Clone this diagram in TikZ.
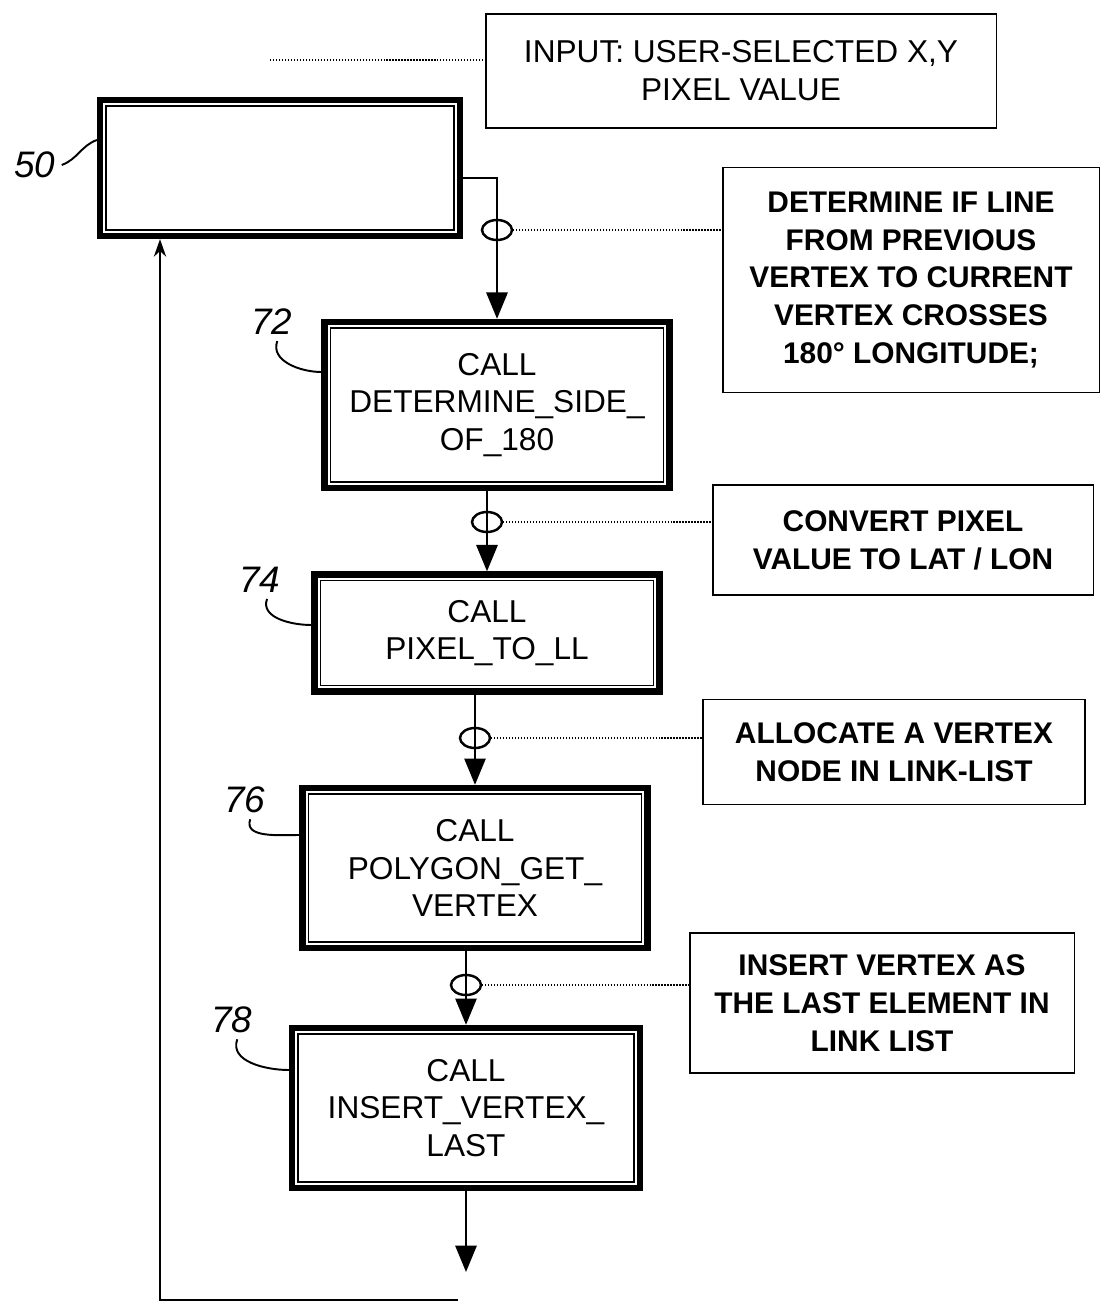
\documentclass[tikz,border=0pt]{standalone}
\usepackage{fontspec}
\setmainfont{Liberation Sans}
\usetikzlibrary{positioning,arrows.meta,shapes.geometric,calc}
\tikzset{
  callbox/.style={draw,line width=3.6pt,align=center,inner sep=4pt,
    font=\fontsize{18}{21.5}\selectfont,
    path picture={\draw[line width=1.1pt]
      ([shift={(3.4pt,3.4pt)}]path picture bounding box.south west) rectangle
      ([shift={(-3.4pt,-3.4pt)}]path picture bounding box.north east);}},
  note/.style={draw,line width=1.1pt,align=center,inner sep=4pt,
    font=\bfseries\fontsize{17}{21.5}\selectfont},
  arr/.style={-{Triangle[width=12pt,length=15pt]},line width=1.5pt},
  back/.style={-{Stealth[width=7pt,length=10pt]},line width=1.1pt},
  tap/.style={draw,ellipse,line width=1.4pt,minimum width=0.6cm,minimum height=0.4cm,inner sep=0pt},
  lead/.style={densely dotted,line width=0.7pt},
  refnum/.style={font=\itshape\fontsize{21}{21}\selectfont},
  hook/.style={line width=1.1pt}
}
\begin{document}
\begin{tikzpicture}[x=0.02cm,y=-0.02cm]
\useasboundingbox (0,0) rectangle (1111,1310);
\node[callbox, minimum width=7.2cm, minimum height=2.72cm] (b50) at (280,168) {};
\node[callbox, minimum width=6.9cm, minimum height=3.32cm] (b72) at (497,405) {CALL\\DETERMINE\_SIDE\_\\OF\_180};
\node[callbox, minimum width=6.9cm, minimum height=2.34cm] (b74) at (487,633) {CALL\\PIXEL\_TO\_LL};
\node[callbox, minimum width=6.9cm, minimum height=3.2cm] (b76) at (475,868) {CALL\\POLYGON\_GET\_\\VERTEX};
\node[callbox, minimum width=6.96cm, minimum height=3.2cm] (b78) at (466,1108) {CALL\\INSERT\_VERTEX\_\\LAST};
\node[note, font=\fontsize{18}{21.5}\selectfont, minimum width=10.22cm, minimum height=2.28cm] (input) at (741,71) {INPUT: USER-SELECTED X,Y\\PIXEL VALUE};
\node[note, minimum width=7.54cm, minimum height=4.5cm] (det) at (911,280) {DETERMINE IF LINE\\FROM PREVIOUS\\VERTEX TO CURRENT\\VERTEX CROSSES\\180° LONGITUDE;};
\node[note, minimum width=7.62cm, minimum height=2.2cm] (conv) at (903,540) {CONVERT PIXEL\\VALUE TO LAT / LON};
\node[note, minimum width=7.64cm, minimum height=2.1cm] (alloc) at (894,752) {ALLOCATE A VERTEX\\NODE IN LINK-LIST};
\node[note, minimum width=7.7cm, minimum height=2.8cm] (ins) at (882,1003) {INSERT VERTEX AS\\THE LAST ELEMENT IN\\LINK LIST};
\node[refnum] (l50) at (35,165) {50};
\node[refnum] (l72) at (272,322) {72};
\node[refnum] (l74) at (260,580) {74};
\node[refnum] (l76) at (245,800) {76};
\node[refnum] (l78) at (232,1020) {78};
\draw[hook] (l50.east) to[out=20,in=200] ($(b50.west)+(0,-28)$);
\draw[hook] ([xshift=3pt]l72.south) to[out=-110,in=180] ($(b72.west)+(0,-33)$);
\draw[hook] ([xshift=4pt]l74.south) to[out=-110,in=180] ($(b74.west)+(0,-8)$);
\draw[hook] ([xshift=3pt]l76.south) to[out=-110,in=180] ($(b76.west)+(0,-33)$);
\draw[hook] ([xshift=3pt]l78.south) to[out=-110,in=180] ($(b78.west)+(0,-38)$);
\draw[arr] ($(b50.east)+(0,10)$) -| (b72.north);
\draw[arr] (b72.south -| b74.north) -- (b74.north);
\draw[arr] (b74.south -| b76.north) -- (b76.north);
\draw[arr] (b76.south -| b78.north) -- (b78.north);
\coordinate (exitpt) at (466,1272);
\draw[arr] (b78.south) -- (exitpt);
\coordinate (lpa) at (458,1300);
\coordinate (lpb) at (160,1300);
\draw[back] (lpa) -- (lpb) -- (lpb |- b50.south);
\node[tap] (t1) at (497,230) {};
\node[tap] (t2) at (487,522) {};
\node[tap] (t3) at (475,738) {};
\node[tap] (t4) at (466,985) {};
\draw[lead] (t1.east) -- (t1 -| det.west);
\draw[lead] (t2.east) -- (t2 -| conv.west);
\draw[lead] (t3.east) -- (t3 -| alloc.west);
\draw[lead] (t4.east) -- (t4 -| ins.west);
\coordinate (inp) at (270,60);
\draw[lead] (inp) -- (inp -| input.west);
\end{tikzpicture}
\end{document}
